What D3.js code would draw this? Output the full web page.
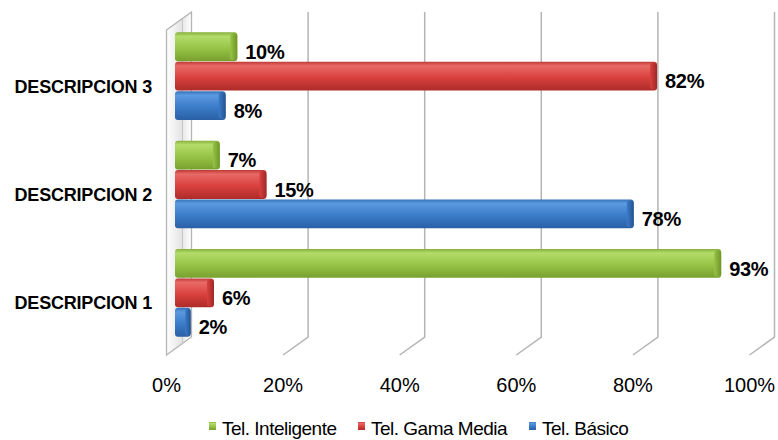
<!DOCTYPE html>
<html>
<head>
<meta charset="utf-8">
<script src="https://cdn.jsdelivr.net/npm/d3@7/dist/d3.min.js"></script>
<style>
  body { margin: 0; background: #fff; }
  svg { display: block; font-family: "Liberation Sans", Arial, sans-serif; }
</style>
</head>
<body>
<svg id="chart" width="778" height="440"></svg>
<script>
// Categories, top to bottom
const categories = ["DESCRIPCION 3", "DESCRIPCION 2", "DESCRIPCION 1"];
// Series, in order within each group (top to bottom)
const seriesNames = ["Tel. Inteligente", "Tel. Gama Media", "Tel. Básico"];
const inteligente = [10, 7, 93];
const gamaMedia   = [82, 15, 6];
const basico      = [8, 78, 2];
const xTicks = [0, 20, 40, 60, 80, 100];
const xTickLabels = ["0%", "20%", "40%", "60%", "80%", "100%"];

const seriesValues = [inteligente, gamaMedia, basico];
const palette = [
  { top: "#b3dc6a", mid: "#97c447", bot: "#77a02e", cap: "#6f9528", edge: "#86b03a" },
  { top: "#e86a66", mid: "#d9413e", bot: "#ad2b29", cap: "#9f2826", edge: "#c03a37" },
  { top: "#5c9ae0", mid: "#3b7cc9", bot: "#2a5fa4", cap: "#24538f", edge: "#3370b8" }
];

const svg = d3.select("#chart");
const defs = svg.append("defs");

// 3D depth offset: back plane = +dx,-dy ; front plane = -dx,+dy
const dx = 12.5, dy = 9;
const x = d3.scaleLinear().domain([0, 100]).range([179, 762]);
const yTop = 21, yBot = 346;
const y = d3.scaleBand().domain(categories).range([yTop + 1, yBot + 1]).paddingInner(0.18).paddingOuter(0.09);
const ySub = d3.scaleBand().domain(seriesNames).range([0, y.bandwidth()]).padding(0.02);

// Gradients for bar bodies and end caps
palette.forEach((p, i) => {
  const g = defs.append("linearGradient").attr("id", "body" + i)
    .attr("x1", 0).attr("y1", 0).attr("x2", 0).attr("y2", 1);
  g.append("stop").attr("offset", "0%").attr("stop-color", p.edge);
  g.append("stop").attr("offset", "14%").attr("stop-color", p.top);
  g.append("stop").attr("offset", "55%").attr("stop-color", p.mid);
  g.append("stop").attr("offset", "100%").attr("stop-color", p.bot);
  const c = defs.append("linearGradient").attr("id", "cap" + i)
    .attr("x1", 0).attr("y1", 0).attr("x2", 1).attr("y2", 0);
  c.append("stop").attr("offset", "0%").attr("stop-color", p.mid);
  c.append("stop").attr("offset", "100%").attr("stop-color", p.cap);
});
const wallGrad = defs.append("linearGradient").attr("id", "wall")
  .attr("x1", 0).attr("y1", 0).attr("x2", 1).attr("y2", 0);
wallGrad.append("stop").attr("offset", "0%").attr("stop-color", "#ffffff");
wallGrad.append("stop").attr("offset", "60%").attr("stop-color", "#e4e4e4");
wallGrad.append("stop").attr("offset", "100%").attr("stop-color", "#ffffff");

// Left wall
const wx = x(0);
svg.append("path")
  .attr("d", `M${wx - dx},${yTop + dy} L${wx + dx},${yTop - dy} L${wx + dx},${yBot - dy} L${wx - dx},${yBot + dy} Z`)
  .attr("fill", "url(#wall)").attr("stroke", "#b4b4b4").attr("stroke-width", 1.3);
svg.append("line")
  .attr("x1", wx + dx - 9).attr("x2", wx + dx - 9)
  .attr("y1", yTop - dy + 7).attr("y2", yBot - dy + 7)
  .attr("stroke", "#c8c8c8").attr("stroke-width", 1);

// Gridlines: back vertical + floor diagonal
const grid = svg.append("g");
xTicks.filter(t => t > 0).forEach(t => {
  const gx = x(t);
  grid.append("path")
    .attr("d", `M${gx + dx},${yTop - dy} L${gx + dx},${yBot - dy} L${gx - dx},${yBot + dy}`)
    .attr("fill", "none").attr("stroke", "#b4b4b4").attr("stroke-width", 1.5);
});

// Bars
const bars = svg.append("g");
const labels = svg.append("g");
categories.forEach((cat, ci) => {
  seriesNames.forEach((s, si) => {
    const v = seriesValues[si][ci];
    const y0 = y(cat) + ySub(s);
    const h = ySub.bandwidth();
    const x0 = x(0) - 4, x1 = x(v);
    const capW = Math.min(7, Math.max(4, (x1 - x0) * 0.35));
    const g = bars.append("g");
    g.append("rect")
      .attr("x", x0).attr("y", y0).attr("width", x1 - x0).attr("height", h)
      .attr("rx", 3).attr("fill", `url(#body${si})`);
    g.append("rect")
      .attr("x", x1 - capW).attr("y", y0 + 1).attr("width", capW).attr("height", h - 2)
      .attr("rx", 3).attr("fill", `url(#cap${si})`);
    // value label
    labels.append("text")
      .attr("x", x1 + 8).attr("y", y0 + h / 2 + 5)
      .attr("dy", "0.36em")
      .attr("font-size", 20).attr("font-weight", "bold").attr("fill", "#000")
      .attr("letter-spacing", -0.3)
      .text(v + "%");
  });
});

// Category labels
categories.forEach(cat => {
  svg.append("text")
    .attr("x", 152).attr("y", y(cat) + y.bandwidth() / 2 + 10)
    .attr("dy", "0.36em").attr("text-anchor", "end")
    .attr("font-size", 18).attr("font-weight", "bold").attr("fill", "#000")
    .attr("letter-spacing", -0.2)
    .text(cat);
});

// X axis tick labels (front plane)
xTicks.forEach((t, i) => {
  svg.append("text")
    .attr("x", x(t) - dx).attr("y", 385)
    .attr("dy", "0.36em").attr("text-anchor", "middle")
    .attr("font-size", 20).attr("fill", "#000")
    .text(xTickLabels[i]);
});

// Legend
const legendX = [209, 358, 529];
seriesNames.forEach((s, i) => {
  const lg = svg.append("g").attr("transform", `translate(${legendX[i]},428)`);
  lg.append("rect").attr("x", 0).attr("y", -6).attr("width", 7).attr("height", 8)
    .attr("fill", `url(#body${i})`);
  lg.append("text").attr("x", 13).attr("y", 0).attr("dy", "0.36em")
    .attr("font-size", 19).attr("letter-spacing", -0.5).attr("fill", "#000")
    .text(s);
});
</script>
</body>
</html>
